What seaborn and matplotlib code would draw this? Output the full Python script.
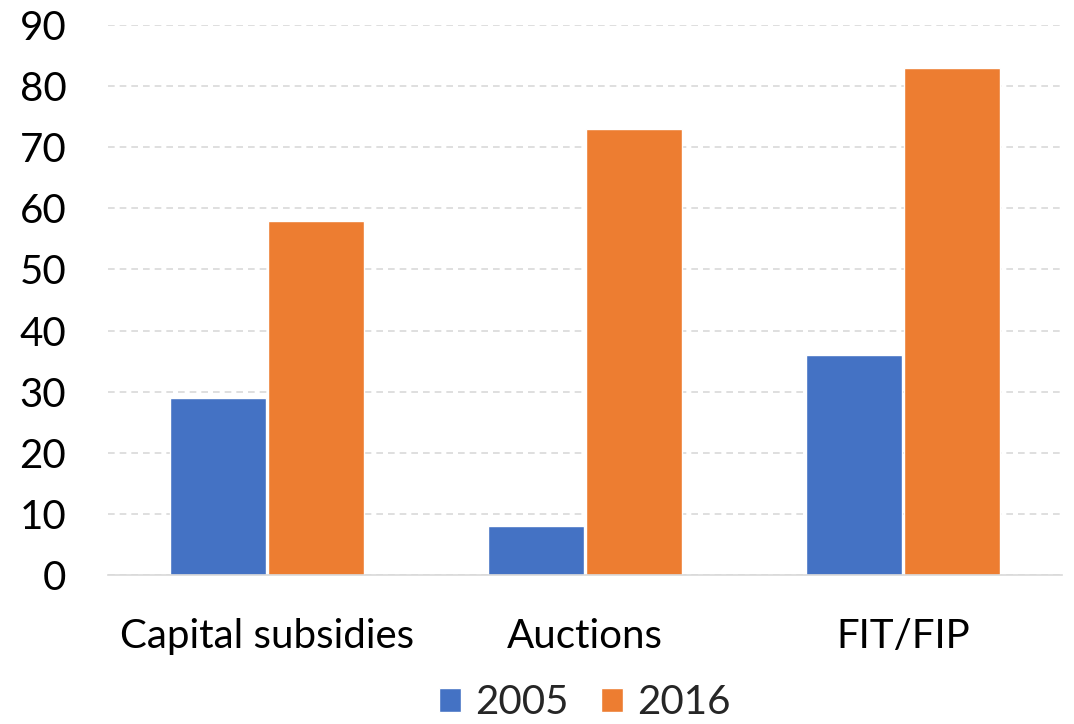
import matplotlib
matplotlib.use("Agg")
import matplotlib.pyplot as plt
import seaborn as sns
import pandas as pd

categories = ["Capital subsidies", "Auctions", "FIT/FIP"]
years = ["2005", "2016"]
values_2005 = [29, 8, 36]
values_2016 = [58, 73, 83]
y_ticks = [0, 10, 20, 30, 40, 50, 60, 70, 80, 90]
colors = ["#4472C4", "#ED7D31"]

df = pd.DataFrame({
    "category": categories * 2,
    "year": [years[0]] * 3 + [years[1]] * 3,
    "value": values_2005 + values_2016,
})

sns.set_theme(style="white")
plt.rcParams["font.family"] = ["Lato", "DejaVu Sans"]

FS = 29
fig = plt.figure(figsize=(10.74, 7.24), dpi=100)
ax = fig.add_axes([108 / 1074, 1 - 575 / 724, (1062 - 108) / 1074, 550 / 724])

sns.barplot(data=df, x="category", y="value", hue="year", palette=colors,
            width=0.62, gap=0.03, ax=ax, saturation=1, legend=True)

ax.set_ylim(0, 90)
ax.set_xlim(-0.5, 2.5)
ax.set_yticks(y_ticks)
ax.yaxis.grid(True, linestyle=(0, (4, 3)), color="#D9D9D9", linewidth=1.2)
ax.set_axisbelow(True)
for s in ["top", "right", "left"]:
    ax.spines[s].set_visible(False)
ax.spines["bottom"].set_color("#D9D9D9")
ax.spines["bottom"].set_linewidth(1.2)
ax.tick_params(axis="both", length=0, labelsize=FS, colors="black")
ax.tick_params(axis="x", pad=31)
ax.tick_params(axis="y", pad=30)
ax.set_xlabel("")
ax.set_ylabel("")

handles, labels = ax.get_legend_handles_labels()
ax.legend(handles, labels, loc="center", bbox_to_anchor=(0.5, (703 - 575) / -550),
          ncol=2, frameon=False, fontsize=FS, handlelength=0.55, handleheight=0.55,
          handletextpad=0.35, columnspacing=0.8, borderpad=0)

fig.savefig("out.png", dpi=100)
